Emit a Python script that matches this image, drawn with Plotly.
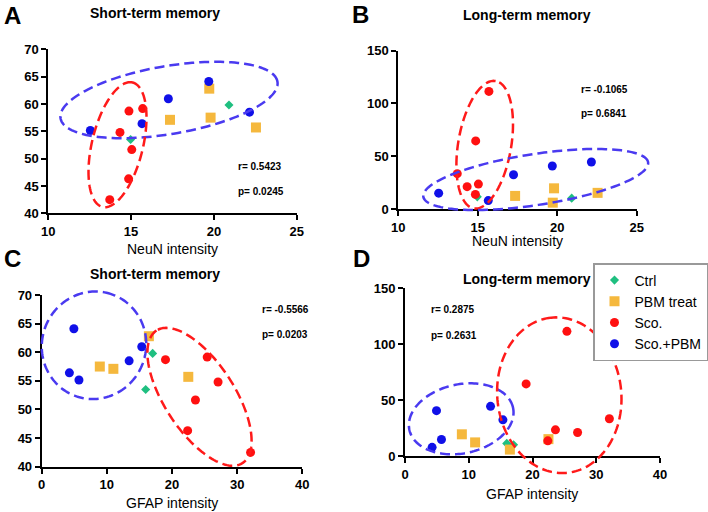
import numpy as np
import plotly.graph_objects as go

W, H = 708, 512

# ---------------- data (per animal) ----------------
groups = ["Ctrl", "PBM treat", "Sco.", "Sco.+PBM"]

ctrl_neun = [14.97, 20.91]
ctrl_gfap = [15.96, 17.03]
ctrl_stm = [53.5, 59.8]
ctrl_ltm = [11.5, 10.3]

pbm_neun = [17.35, 19.72, 19.80, 22.54]
pbm_gfap = [11.0, 16.45, 8.92, 22.5]
pbm_stm = [57.1, 62.8, 57.5, 55.7]
pbm_ltm = [12.4, 6.0, 19.6, 15.3]

sco_neun = [13.71, 14.33, 14.85, 14.87, 15.04, 15.70]
sco_gfap = [32.06, 27.07, 22.40, 19.0, 23.6, 25.4]
sco_stm = [42.5, 54.8, 46.3, 58.7, 51.65, 59.15]
sco_ltm = [33.5, 21.2, 13.8, 64.5, 23.6, 111.4]

scopbm_neun = [12.54, 15.66, 17.25, 19.69, 22.15]
scopbm_gfap = [5.72, 4.25, 15.36, 4.94, 13.42]
scopbm_stm = [55.15, 56.4, 60.95, 64.1, 58.5]
scopbm_ltm = [15.0, 8.0, 32.5, 40.7, 44.5]

stats_r = ["r= 0.5423", "r= -0.1065", "r= -0.5566", "r= 0.2875"]
stats_p = ["p= 0.0245", "p= 0.6841", "p= 0.0203", "p= 0.2631"]
titles = ["Short-term memory", "Long-term memory", "Short-term memory", "Long-term memory"]
xtitles = ["NeuN intensity", "NeuN intensity", "GFAP intensity", "GFAP intensity"]
letters = ["A", "B", "C", "D"]

# ---------------- styles ----------------
FONT = "Arial, Liberation Sans, sans-serif"
styles = {
    "Ctrl": dict(symbol="diamond", color="#1FBF80", size=7),
    "PBM treat": dict(symbol="square", color="#F5B83D", size=10),
    "Sco.": dict(symbol="circle", color="#FF1010", size=9),
    "Sco.+PBM": dict(symbol="circle", color="#1010E8", size=9),
}
data = {
    "Ctrl": (ctrl_neun, ctrl_gfap, ctrl_stm, ctrl_ltm),
    "PBM treat": (pbm_neun, pbm_gfap, pbm_stm, pbm_ltm),
    "Sco.": (sco_neun, sco_gfap, sco_stm, sco_ltm),
    "Sco.+PBM": (scopbm_neun, scopbm_gfap, scopbm_stm, scopbm_ltm),
}

# panel pixel boxes: (x0, x1, ytop, ybottom)
panels = [
    (48.3, 296.7, 49.3, 213.3),
    (398.3, 636.7, 50.7, 209.0),
    (41.7, 302.3, 295.0, 466.7),
    (405.0, 660.0, 288.0, 456.3),
]
xranges = [[10, 25], [10, 25], [0, 40], [0, 40]]
yranges = [[40, 70], [0, 150], [40, 70], [0, 150]]
xticks = [[10, 15, 20, 25], [10, 15, 20, 25], [0, 10, 20, 30, 40], [0, 10, 20, 30, 40]]
yticks = [[40, 45, 50, 55, 60, 65, 70], [0, 50, 100, 150], [40, 45, 50, 55, 60, 65, 70], [0, 50, 100, 150]]

fig = go.Figure()

for i in range(4):
    ax = "" if i == 0 else str(i + 1)
    x0, x1, yt, yb = panels[i]
    xi = 0 if i < 2 else 1   # NeuN or GFAP
    yi = 2 if i % 2 == 0 else 3  # STM or LTM
    for g in groups:
        d = data[g]
        st = styles[g]
        fig.add_trace(go.Scatter(
            x=d[xi], y=d[yi], mode="markers", name=g,
            marker=dict(symbol=st["symbol"], color=st["color"], size=st["size"], line=dict(width=0)),
            xaxis="x" + ax, yaxis="y" + ax, showlegend=(i == 3), cliponaxis=False,
        ))
    common = dict(showline=True, linewidth=2, linecolor="black", ticks="outside", ticklen=5,
                  tickwidth=2, tickcolor="black", showgrid=False, zeroline=False, automargin=False,
                  tickfont=dict(family=FONT, size=13, color="black", weight=700))
    fig.layout["xaxis" + ax] = dict(domain=[x0 / W, x1 / W], range=xranges[i], tickvals=xticks[i],
                                   anchor="y" + ax, **common)
    fig.layout["yaxis" + ax] = dict(domain=[1 - yb / H, 1 - yt / H], range=yranges[i], tickvals=yticks[i],
                                   anchor="x" + ax, **common)

# ---------------- text ----------------
ann = []
def txt(x, y, t, size, bold=False, xanchor="center"):
    ann.append(dict(x=x / W, y=1 - y / H, xref="paper", yref="paper", text=t, showarrow=False,
                    xanchor=xanchor, yanchor="middle",
                    font=dict(family=FONT, size=size, color="black", weight=700 if bold else 400)))

letter_pos = [(12, 15), (360, 14), (12, 258), (361, 258)]
title_pos = [(155, 13), (527, 15), (155, 274), (527, 279)]
xtitle_pos = [(172, 249), (517, 241), (172, 503), (532, 494)]
r_pos = [(236, 166), (579, 89), (260, 309), (429, 309)]
p_pos = [(236, 191), (579, 113), (260, 334), (429, 335)]
for i in range(4):
    txt(*letter_pos[i], letters[i], 24, bold=True)
    txt(*title_pos[i], titles[i], 14, bold=True)
    txt(*xtitle_pos[i], xtitles[i], 14)
    txt(*r_pos[i], stats_r[i], 10, bold=True, xanchor="left")
    txt(*p_pos[i], stats_p[i], 10, bold=True, xanchor="left")

# ---------------- dashed ellipses (pixel geometry) ----------------
BLUE_E = "#4A3AF0"
RED_E = "#FF1A1A"
# (cx, cy, semi-major, semi-minor, angle deg of major axis from +x, counter-clockwise visually, color)
ellipses = [
    (169, 100, 110, 34, 9.6, BLUE_E),
    (117.5, 144.7, 64, 25.5, 76.4, RED_E),
    (484.7, 144.7, 64.6, 26.5, 80.3, RED_E),
    (535.7, 179.5, 113.7, 25.5, 8.7, BLUE_E),
    (94, 345.3, 54, 52, 70, BLUE_E),
    (199.5, 396.8, 79, 35, 123, RED_E),
    (461.2, 418.8, 53, 34.5, 12, BLUE_E),
    (559.3, 395.2, 78, 62, 96, RED_E),
]
shapes = []
t = np.linspace(0, 2 * np.pi, 160)
for cx, cy, a, b, ang, col in ellipses:
    th = np.deg2rad(ang)
    px = cx + a * np.cos(t) * np.cos(th) - b * np.sin(t) * np.sin(th)
    py = cy - (a * np.cos(t) * np.sin(th) + b * np.sin(t) * np.cos(th))
    pts = [f"{x / W:.5f},{1 - y / H:.5f}" for x, y in zip(px, py)]
    path = "M " + " L ".join(pts) + " Z"
    shapes.append(dict(type="path", path=path, xref="paper", yref="paper",
                       line=dict(color=col, width=2.5, dash="10px,5px"), layer="above"))

fig.update_layout(
    template="none",
    width=W, height=H, margin=dict(l=0, r=0, t=0, b=0, autoexpand=False),
    paper_bgcolor="white", plot_bgcolor="white",
    annotations=ann, shapes=shapes,
    legend=dict(x=593 / W, y=1 - 263 / H, xanchor="left", yanchor="top",
                bordercolor="#999999", borderwidth=1.5, bgcolor="white",
                font=dict(family=FONT, size=14, color="black"), tracegroupgap=0, itemwidth=30),
)

fig.write_html("out.html", config={"displayModeBar": False},
               post_script="document.body.style.margin='0';document.body.style.padding='0';")
